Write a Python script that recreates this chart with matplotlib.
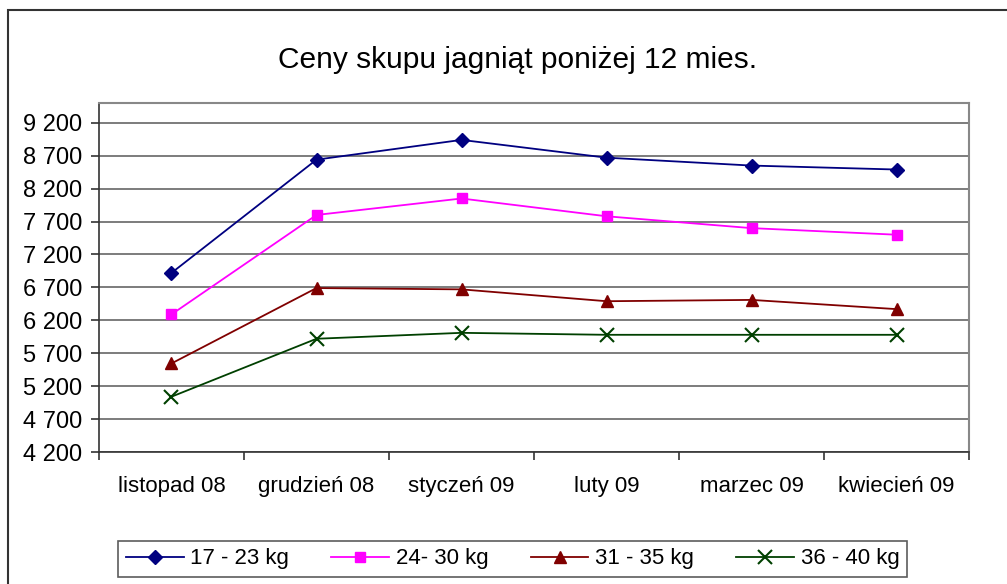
import matplotlib.pyplot as plt
from matplotlib.patches import Rectangle
import numpy as np

plt.rcParams['font.family'] = ['Liberation Sans', 'DejaVu Sans']

months = ["listopad 08", "grudzień 08", "styczeń 09", "luty 09", "marzec 09", "kwiecień 09"]
kg_17_23 = [6920, 8640, 8940, 8670, 8550, 8490]
kg_24_30 = [6290, 7800, 8050, 7780, 7600, 7500]
kg_31_35 = [5545, 6690, 6670, 6490, 6510, 6370]
kg_36_40 = [5040, 5920, 6010, 5980, 5980, 5980]
series_names = ["17 - 23 kg", "24- 30 kg", "31 - 35 kg", "36 - 40 kg"]
y_ticks = [4200, 4700, 5200, 5700, 6200, 6700, 7200, 7700, 8200, 8700, 9200]


def main():
    fig = plt.figure(figsize=(10.07, 5.84), dpi=100)
    ax = fig.add_axes([0.0983, 0.226, 0.864, 0.5976])

    x = np.arange(len(months))
    ax.plot(x, kg_17_23, '-D', color='#000080', lw=1.3, ms=7, label=series_names[0])
    ax.plot(x, kg_24_30, '-s', color='#FF00FF', lw=1.3, ms=7, label=series_names[1])
    ax.plot(x, kg_31_35, '-^', color='#800000', lw=1.3, ms=8, label=series_names[2])
    ax.plot(x, kg_36_40, '-x', color='#004000', lw=1.3, ms=10, mew=1.5, label=series_names[3])

    ax.set_xlim(-0.5, len(months) - 0.5)
    ax.set_ylim(4200, 9500)
    ax.set_yticks(y_ticks)
    ax.set_yticklabels([f"{v // 1000} {v % 1000:03d}" for v in y_ticks], fontsize=17)
    ax.set_xticks(x)
    ax.set_xticklabels(months, fontsize=16)
    ax.set_xticks(np.arange(-0.5, len(months)), minor=True)
    ax.tick_params(axis='x', which='major', length=0, pad=17)
    ax.tick_params(axis='x', which='minor', length=6, width=1.2, color='#333333')
    ax.tick_params(axis='y', length=6, width=1.2, color='#333333', pad=6)

    ax.grid(axis='y', color='#666666', lw=1.2)
    ax.set_axisbelow(True)
    for side in ['top', 'right']:
        ax.spines[side].set_color('#888888')
        ax.spines[side].set_linewidth(1.5)
    for side in ['left', 'bottom']:
        ax.spines[side].set_color('#333333')
        ax.spines[side].set_linewidth(1.2)

    fig.text(0.514, 0.897, "Ceny skupu jagniąt poniżej 12 mies.", ha='center', va='center', fontsize=21.5)

    leg = fig.legend(loc='center', bbox_to_anchor=(0.509, 0.043), ncol=4, fontsize=16,
                     frameon=True, fancybox=False, edgecolor='#333333', handlelength=2.6,
                     columnspacing=1.9, handletextpad=0.3, borderpad=0.35)
    leg.get_frame().set_linewidth(1.2)

    # outer chart border
    fig.patches.append(Rectangle((8 / 1007, -0.1), 1.2, 1.1 - 10 / 584, transform=fig.transFigure,
                                 fill=False, edgecolor='#333333', lw=1.5))

    fig.savefig("out.png", dpi=100)


if __name__ == "__main__":
    main()
